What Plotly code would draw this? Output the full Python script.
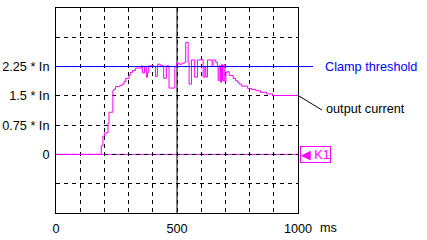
import plotly.graph_objects as go

# ---- data ----
t_ms = [0, 187, 194, 201, 215, 219, 235, 239, 246, 263, 273, 281, 288, 302, 307, 316, 329,
        353, 357, 366, 373, 378, 383, 405, 411, 419, 431, 445, 456, 467, 491, 498, 509, 521,
        532, 536, 546, 550, 560, 573, 585, 601, 608, 615, 619, 626, 645, 649, 660, 667, 670,
        674, 680, 684, 688, 694, 698, 702, 707, 716, 732, 742, 750, 757, 767, 792, 808, 826,
        845, 870, 895, 1000]
current = [0, 0.22, 0.47, 0.55, 0.80, 1.08, 1.63, 1.67, 1.74, 1.76, 1.80, 1.87, 1.95, 2.03, 2.10, 2.15, 2.21,
           2.27, 2.09, 2.25, 1.98, 2.10, 2.27, 2.25, 2.00, 2.31, 2.27, 1.95, 2.27, 1.70, 2.25, 2.34, 2.31, 2.34,
           2.36, 2.87, 2.36, 1.80, 2.42, 1.98, 2.42, 2.43, 1.98, 2.25, 1.98, 2.42, 2.27, 2.42, 2.36, 2.27, 1.89,
           2.27, 1.85, 2.30, 1.89, 2.30, 1.85, 2.10, 2.12, 2.02, 1.95, 1.89, 1.85, 1.80, 1.75, 1.69, 1.66, 1.63,
           1.59, 1.55, 1.51, 1.51]
k1_x = [0, 1000]
k1_y = [0, 0]
threshold = 2.25

x_tickvals = [0, 100, 200, 300, 400, 500, 600, 700, 800, 900, 1000]
x_ticktext = ['0', '', '', '', '', '500', '', '', '', '', '1000']
y_tickvals = [-0.75, 0, 0.75, 1.5, 2.25, 3.0]
y_ticktext = ['', '0', '0.75 * In', '1.5 * In', '2.25 * In', '']
X_RANGE = [0, 1000]
Y_RANGE = [-1.5, 3.75]

FONT = "Liberation Sans, Arial, sans-serif"
FS = 12.7
MAG = '#ff00ff'
BLUE = '#0000ff'

fig = go.Figure()
fig.add_trace(go.Scatter(x=k1_x, y=k1_y, mode='lines', line=dict(color=MAG, width=1), name='K1'))
fig.add_trace(go.Scatter(x=k1_x, y=k1_y, mode='lines', line=dict(color='black', width=1, dash='4px,4px'), name='zero'))
fig.add_trace(go.Scatter(x=t_ms, y=current, mode='lines', line=dict(color=MAG, width=1, shape='hv'),
                         name='output current'))
fig.add_trace(go.Scatter(x=X_RANGE, y=[threshold, threshold], mode='lines', line=dict(color=BLUE, width=1),
                         name='Clamp threshold'))

W, H = 427, 240
ML, MR, MT, MB = 56, 129, 8, 27
PW, PH = W - ML - MR, H - MT - MB


def px_x(p):
    return (p - ML) / PW


def px_y(p):
    return (H - MB - p) / PH


def val_y(v):
    return (v - Y_RANGE[0]) / (Y_RANGE[1] - Y_RANGE[0])


shapes = [
    dict(type='line', xref='x', yref='paper', x0=500, x1=500, y0=0, y1=1,
         line=dict(color='black', width=1), layer='below'),
    dict(type='line', xref='paper', yref='paper', x0=1, x1=px_x(313),
         y0=val_y(threshold), y1=val_y(threshold), line=dict(color=BLUE, width=1)),
    dict(type='line', xref='paper', yref='paper', x0=1, x1=px_x(322),
         y0=val_y(current[-1]), y1=px_y(110), line=dict(color='black', width=1)),
]

annotations = [
    dict(text='Clamp threshold', xref='paper', yref='paper', x=px_x(323), y=px_y(67),
         xanchor='left', yanchor='middle', showarrow=False, font=dict(color=BLUE, size=FS, family=FONT)),
    dict(text='output current', xref='paper', yref='paper', x=px_x(324), y=px_y(109),
         xanchor='left', yanchor='middle', showarrow=False, font=dict(color='black', size=FS, family=FONT)),
    dict(text='<span style="font-family:DejaVu Sans">◀</span> K1', xref='paper', yref='paper',
         x=px_x(300), y=px_y(154.5),
         xanchor='left', yanchor='middle', showarrow=False, bordercolor=MAG, borderwidth=1, borderpad=0,
         font=dict(color=MAG, size=FS, family=FONT)),
    dict(text='ms', xref='paper', yref='paper', x=px_x(318), y=px_y(228),
         xanchor='left', yanchor='middle', showarrow=False, font=dict(color='black', size=FS, family=FONT)),
]

fig.update_layout(
    width=W, height=H, margin=dict(l=ML, r=MR, t=MT, b=MB, pad=0, autoexpand=False),
    paper_bgcolor='white', plot_bgcolor='white', showlegend=False,
    font=dict(family=FONT, size=FS, color='black'),
    shapes=shapes, annotations=annotations,
    xaxis=dict(range=X_RANGE, tickmode='array', tickvals=x_tickvals, ticktext=x_ticktext,
               showgrid=True, gridcolor='black', gridwidth=1, griddash='4px,4px', automargin=False,
               zeroline=False, showline=True, mirror=True, linecolor='black', linewidth=1,
               ticks='outside', ticklen=4, tickcolor='rgba(0,0,0,0)'),
    yaxis=dict(range=Y_RANGE, tickmode='array', tickvals=y_tickvals, ticktext=y_ticktext,
               showgrid=True, gridcolor='black', gridwidth=1, griddash='4px,4px', automargin=False,
               zeroline=False, showline=True, mirror=True, linecolor='black', linewidth=1,
               ticks='outside', ticklen=3, tickcolor='rgba(0,0,0,0)'),
)

fig.write_html("out.html")
